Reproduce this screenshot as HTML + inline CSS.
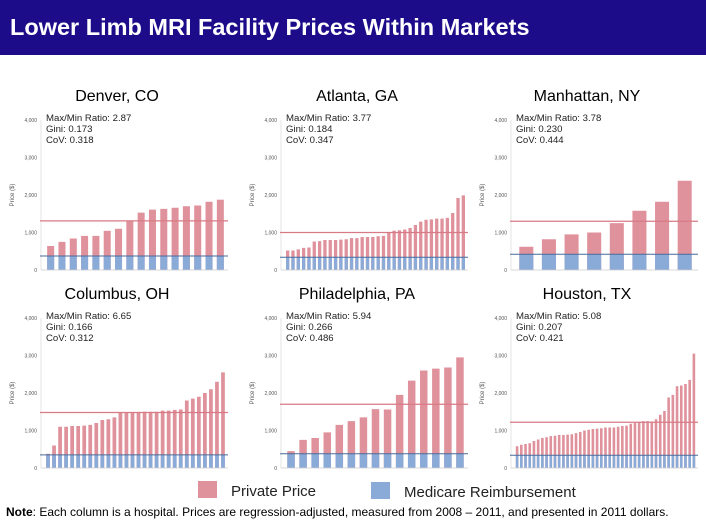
<!DOCTYPE html>
<html><head><meta charset="utf-8"><style>
body{margin:0;width:706px;height:529px;background:#fff;overflow:hidden;font-family:"Liberation Sans",sans-serif;}
#hdr{position:absolute;left:0;top:0;width:706px;height:55px;background:#1c0c8a;}
#hdr span{position:absolute;left:10px;top:14px;color:#fff;font-weight:bold;font-size:23.5px;}
svg{position:absolute;left:0;top:0;}
</style></head><body>
<div id="hdr"><span>Lower Limb MRI Facility Prices Within Markets</span></div>
<svg id="c" width="706" height="529"></svg>
<script>
const marketNames=["Denver, CO","Atlanta, GA","Manhattan, NY","Columbus, OH","Philadelphia, PA","Houston, TX"];
const statRatio=["2.87","3.77","3.78","6.65","5.94","5.08"];
const statGini=["0.173","0.184","0.230","0.166","0.266","0.207"];
const statCov=["0.318","0.347","0.444","0.312","0.486","0.421"];
const denverPrices=[640,750,840,910,910,1045,1100,1310,1530,1610,1630,1660,1700,1720,1820,1875];
const atlantaPrices=[520,520,550,590,600,760,770,800,800,800,810,820,850,850,880,880,880,900,910,1010,1050,1060,1080,1120,1200,1290,1340,1350,1370,1370,1390,1520,1920,1990];
const manhattanPrices=[620,820,950,1000,1250,1580,1820,2380];
const columbusPrices=[380,600,1100,1100,1120,1120,1130,1150,1200,1280,1300,1350,1480,1480,1480,1480,1500,1500,1500,1530,1530,1550,1560,1800,1850,1900,2000,2100,2300,2550];
const philadelphiaPrices=[450,750,800,950,1150,1250,1350,1570,1560,1950,2330,2600,2650,2680,2950];
const houstonPrices=[580,620,640,660,720,760,800,820,850,860,880,880,890,900,930,960,1000,1020,1040,1050,1060,1080,1080,1080,1100,1120,1130,1180,1200,1220,1250,1250,1240,1300,1420,1520,1880,1950,2180,2200,2240,2350,3050];
const medicareLevel=[375,340,420,350,380,340];
const averagePrice=[1310,1000,1300,1480,1700,1220];
const yTicks=[0,1000,2000,3000,4000];
const yTickLabels=["0","1,000","2,000","3,000","4,000"];
const allPrices=[denverPrices,atlantaPrices,manhattanPrices,columbusPrices,philadelphiaPrices,houstonPrices];

const svg=document.getElementById('c');const NS="http://www.w3.org/2000/svg";
function mk(t,a,p){const e=document.createElementNS(NS,t);for(const k in a)e.setAttribute(k,a[k]);(p||svg).appendChild(e);return e;}
const colX=[0,240,470],rowTop=[105,303];
allPrices.forEach((prices,i)=>{
  const ox=colX[i%3],ry=rowTop[Math.floor(i/3)];
  const g=mk('g',{});
  
  
  const zero=ry+165,sc=37.5/1000,L=ox+45,R=ox+226;
  const y=v=>zero-v*sc;
  const t=mk('text',{x:ox+117,y:ry-4,'text-anchor':'middle','font-size':16,fill:'#000'},g);t.textContent=marketNames[i];
  
  mk('line',{x1:ox+41,x2:ox+41,y1:y(4000),y2:zero,stroke:'#ddd','stroke-width':0.8},g);
  yTicks.forEach((v,k)=>{const tt=mk('text',{x:ox+37,y:y(v)+2,'text-anchor':'end','font-size':5,fill:'#555'},g);tt.textContent=yTickLabels[k];
    });
  const yl=mk('text',{x:0,y:0,'font-size':6,fill:'#555','text-anchor':'middle',transform:`translate(${ox+14},${y(2000)}) rotate(-90)`},g);yl.textContent='Price ($)';
  
  ['Max/Min Ratio: '+statRatio[i],'Gini: '+statGini[i],'CoV: '+statCov[i]].forEach((s,k)=>{
    const st=mk('text',{x:ox+46,y:ry+16+k*11,'font-size':9.6,fill:'#222'},g);st.textContent=s;
    });
  const n=prices.length,slot=(R-L)/n,bw=slot*0.62;
  prices.forEach((v,k)=>{const x=L+k*slot+(slot-bw)/2;const m=Math.min(medicareLevel[i],v);
    const b=mk('rect',{x:x,y:y(v),width:bw,height:v*sc,fill:'#e0929c'},g);
    
    const b2=mk('rect',{x:x,y:y(m),width:bw,height:m*sc,fill:'#8aaad8'},g);
    });
  const a=mk('line',{x1:ox+40,x2:R+2,y1:y(averagePrice[i]),y2:y(averagePrice[i]),stroke:'#d87a85','stroke-width':1.2},g);
  
  const m=mk('line',{x1:ox+40,x2:R+2,y1:y(medicareLevel[i]),y2:y(medicareLevel[i]),stroke:'#4a6a9a','stroke-width':1},g);
  
  mk('line',{x1:ox+41,x2:R+2,y1:zero,y2:zero,stroke:'#ccc','stroke-width':0.8},g);
});
</script>
<svg width="706" height="529" style="pointer-events:none">
<rect x="198" y="481" width="19" height="17" fill="#e0929c"/>
<text x="231" y="496" font-size="15" fill="#222">Private Price</text>
<rect x="371" y="482" width="19" height="17" fill="#8aaad8"/>
<text x="404" y="497" font-size="15" fill="#222">Medicare Reimbursement</text>
<text x="6" y="516" font-size="12" fill="#000"><tspan font-weight="bold">Note</tspan>: Each column is a hospital. Prices are regression-adjusted, measured from 2008 – 2011, and presented in 2011 dollars.</text>
</svg>
</body></html>
